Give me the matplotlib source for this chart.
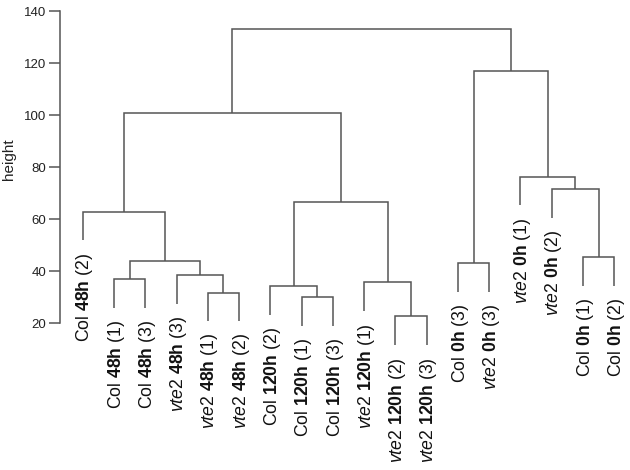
import matplotlib
matplotlib.use("Agg")
import matplotlib.pyplot as plt

plt.rcParams['font.family'] = ['Liberation Sans', 'DejaVu Sans']
plt.rcParams['mathtext.fontset'] = 'custom'
plt.rcParams['mathtext.rm'] = 'Liberation Sans'
plt.rcParams['mathtext.it'] = 'Liberation Sans:italic'
plt.rcParams['mathtext.bf'] = 'Liberation Sans:bold'

# leaf labels in plotting order: (genotype, time, replicate)
genotypes = ["Col", "Col", "Col", "vte2", "vte2", "vte2",
             "Col", "Col", "Col", "vte2", "vte2", "vte2",
             "Col", "vte2", "vte2", "vte2", "Col", "Col"]
times = ["48h", "48h", "48h", "48h", "48h", "48h",
         "120h", "120h", "120h", "120h", "120h", "120h",
         "0h", "0h", "0h", "0h", "0h", "0h"]
reps = [2, 1, 3, 3, 1, 2, 2, 1, 3, 1, 2, 3, 3, 3, 1, 2, 1, 2]

# merges: negative = leaf -(index+1), positive = earlier merge step (1-based)
merge_left = [-11, -8, -5, -7, -10, -2, -4, -13, 6, -17, -1, 4, -16, -15, 11, 8, 15]
merge_right = [-12, -9, -6, 2, 1, -3, 3, -14, 7, -18, 9, 5, 10, 13, 12, 14, 16]
merge_height = [22.6, 29.9, 31.7, 34.1, 35.6, 37.0, 38.5, 43.1, 43.7, 45.4,
                62.8, 66.5, 71.5, 76.3, 100.7, 116.8, 133.0]

hang = 0.1 * (max(merge_height) - min(merge_height))
line_color = "#555555"

fig = plt.figure(figsize=(6.3, 4.7), dpi=100)
ax = fig.add_axes([0, 0, 1, 1])
px_per_unit = 2.6
ax.set_ylim(140 - (470 - 11) / px_per_unit, 140 + 11 / px_per_unit)
x0, dx = 82.7, 31.27
ax.set_xlim(-x0 / dx, (630 - x0) / dx)

node_x = {}
for i, (l, r, h) in enumerate(zip(merge_left, merge_right, merge_height), start=1):
    pts = []
    for c in (l, r):
        if c < 0:
            xi = -c - 1
            pts.append((xi, h - hang))
        else:
            pts.append((node_x[c], merge_height[c - 1]))
    (xa, ya), (xb, yb) = pts
    ax.plot([xa, xa, xb, xb], [ya, h, h, yb], color=line_color, lw=1.1,
            solid_joinstyle='miter', solid_capstyle='butt')
    node_x[i] = (xa + xb) / 2

# leaf labels
parent_h = {}
for l, r, h in zip(merge_left, merge_right, merge_height):
    for c in (l, r):
        if c < 0:
            parent_h[-c - 1] = h
for i, (g, t, rp) in enumerate(zip(genotypes, times, reps)):
    gtxt = r"$\mathit{vte2}$" if g == "vte2" else g
    label = gtxt + " " + r"$\mathbf{" + t + "}$" + f" ({rp})"
    ax.text(i + 0.07, parent_h[i] - hang - 12 / px_per_unit, label,
            rotation=90, ha='center', va='top', fontsize=12.7, color="#111111")

for s in ('top', 'right', 'bottom'):
    ax.spines[s].set_visible(False)
ax.spines['left'].set_position(('data', (60 - x0) / dx))
ax.spines['left'].set_bounds(20, 140)
ax.spines['left'].set_color(line_color)
ax.spines['left'].set_linewidth(1.1)
ax.set_yticks([20, 40, 60, 80, 100, 120, 140])
ax.tick_params(axis='y', length=8, width=1.1, color=line_color, pad=2,
               labelsize=9.5, labelcolor="#222222")
ax.set_xticks([])
ax.patch.set_visible(False)
fig.text(9.3 / 630, 1 - 159 / 470, "height", rotation=90, ha='center', va='center',
         fontsize=11, color="#222222")

fig.savefig("out.png", dpi=100)
